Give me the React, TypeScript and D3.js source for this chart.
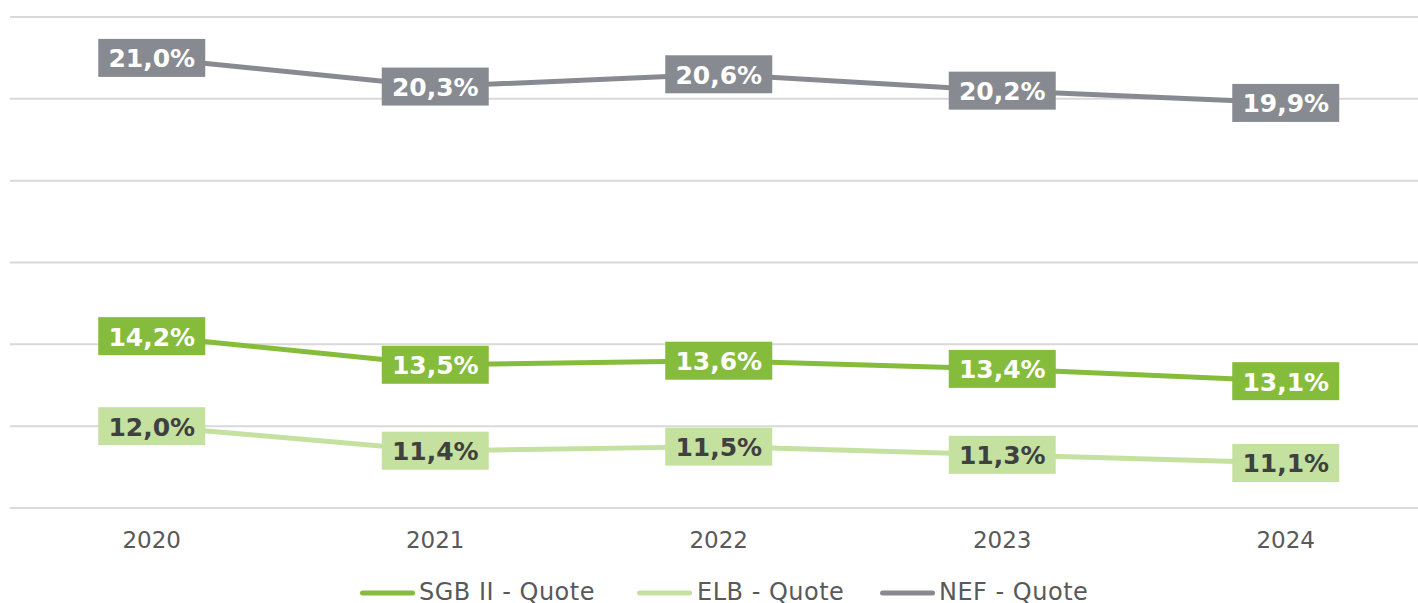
import React from "react";
import * as d3 from "d3";

const years = ["2020", "2021", "2022", "2023", "2024"];
const sgb = [14.2, 13.5, 13.6, 13.4, 13.1];
const elb = [12.0, 11.4, 11.5, 11.3, 11.1];
const nef = [21.0, 20.3, 20.6, 20.2, 19.9];
const yTicks = [10, 12, 14, 16, 18, 20, 22];

const seriesNames = ["SGB II - Quote", "ELB - Quote", "NEF - Quote"];
const seriesColors = ["#86BC3B", "#C5E1A0", "#878B91"];
const labelTextColors = ["#FFFFFF", "#404040", "#FFFFFF"];

const W = 1418;
const H = 603;
const FONT = "'DejaVu Sans', Verdana, sans-serif";

export default function App() {
  const x = d3.scaleBand<string>().domain(years).range([10, 1427.5]);
  const y = d3.scaleLinear().domain([10, 22]).range([508, 17]);
  const cx = (yr: string) => (x(yr) as number) + x.bandwidth() / 2;

  const allSeries = [sgb, elb, nef];
  const line = d3
    .line<number>()
    .x((_, i) => cx(years[i]))
    .y((d) => y(d));

  const drawOrder = [2, 0, 1];
  const fmt = (v: number) => v.toFixed(1).replace(".", ",") + "%";

  const legendItems = [
    { lineX: 360, textX: 419 },
    { lineX: 637, textX: 697 },
    { lineX: 880, textX: 939 },
  ];

  return (
    <div style={{ position: "fixed", left: 0, top: 0 }}>
      <svg width={W} height={H} style={{ display: "block", background: "#fff" }}>
        {yTicks.map((t) => (
          <line
            key={t}
            x1={10}
            x2={1430}
            y1={y(t)}
            y2={y(t)}
            stroke="#D9D9D9"
            strokeWidth={2}
          />
        ))}
        {years.map((yr) => (
          <text
            key={yr}
            x={cx(yr)}
            y={540}
            textAnchor="middle"
            dominantBaseline="central"
            fontFamily={FONT}
            fontSize={23}
            fill="#595959"
          >
            {yr}
          </text>
        ))}
        {drawOrder.map((si) => (
          <path
            key={si}
            d={line(allSeries[si]) || ""}
            fill="none"
            stroke={seriesColors[si]}
            strokeWidth={5}
            strokeLinejoin="round"
          />
        ))}
        {drawOrder.map((si) =>
          allSeries[si].map((v, i) => {
            const px = cx(years[i]);
            const py = y(v);
            return (
              <g key={`${si}-${i}`}>
                <rect
                  x={px - 53.5}
                  y={py - 19}
                  width={107}
                  height={38}
                  fill={seriesColors[si]}
                />
                <text
                  x={px}
                  y={py + 1}
                  textAnchor="middle"
                  dominantBaseline="central"
                  fontFamily={FONT}
                  fontWeight="bold"
                  fontSize={25}
                  fill={labelTextColors[si]}
                >
                  {fmt(v)}
                </text>
              </g>
            );
          })
        )}
        {seriesNames.map((name, i) => (
          <g key={name}>
            <line
              x1={legendItems[i].lineX + 2.5}
              x2={legendItems[i].lineX + 52.5}
              y1={593}
              y2={593}
              stroke={seriesColors[i]}
              strokeWidth={5}
              strokeLinecap="round"
            />
            <text
              x={legendItems[i].textX}
              y={592}
              dominantBaseline="central"
              fontFamily={FONT}
              fontSize={24}
              letterSpacing={0.5}
              fill="#595959"
            >
              {name}
            </text>
          </g>
        ))}
      </svg>
    </div>
  );
}
